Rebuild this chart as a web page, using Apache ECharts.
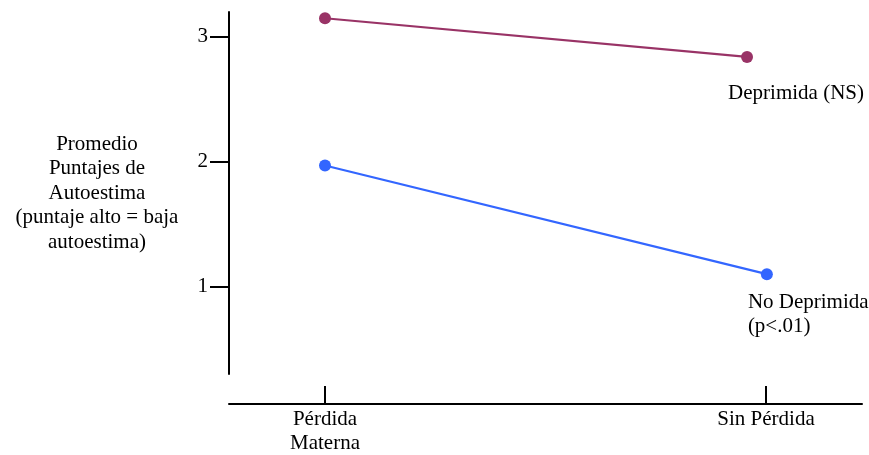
<!DOCTYPE html>
<html>
<head>
<meta charset="utf-8">
<script src="https://cdn.jsdelivr.net/npm/echarts@6/dist/echarts.min.js"></script>
<style>html,body{margin:0;padding:0;background:#fff}#c{width:869px;height:455px}</style>
</head>
<body>
<div id="c"></div>
<script>
// Data
const categories = ['Pérdida\nMaterna', 'Sin Pérdida'];
const categoryPos = [0, 1];
const deprimidaX = [0, 0.957];
const deprimida = [3.15, 2.84];
const noDeprimidaX = [0, 1.002];
const noDeprimida = [1.97, 1.10];
const yTicks = [1, 2, 3];
const seriesNames = ['Deprimida (NS)', 'No Deprimida\n(p<.01)'];
const yTitle = 'Promedio\nPuntajes de\nAutoestima\n(puntaje alto = baja\nautoestima)';

const FONT = 'Liberation Serif';
const chart = echarts.init(document.getElementById('c'), null, {renderer: 'canvas'});

function pairs(xs, ys) { return xs.map((x, i) => [x, ys[i]]); }

chart.setOption({
  animation: false,
  backgroundColor: '#fff',
  textStyle: {fontFamily: FONT, color: '#000'},
  grid: {left: 229, top: 12, width: 633, height: 366},
  xAxis: {
    type: 'value', min: -0.2177, max: 1.2177, offset: 30,
    splitLine: {show: false},
    axisLine: {show: true, onZero: false, lineStyle: {color: '#000', width: 2}},
    axisTick: {show: true, inside: true, length: 18, lineStyle: {color: '#000', width: 2}, customValues: categoryPos},
    axisLabel: {
      show: true, margin: 3, customValues: categoryPos,
      fontFamily: FONT, fontSize: 21, color: '#000', lineHeight: 24,
      formatter: v => { const i = categoryPos.indexOf(Math.round(v)); return i >= 0 ? categories[i] : ''; }
    }
  },
  yAxis: {
    type: 'value', min: 0.3, max: 3.2,
    splitLine: {show: false},
    axisLine: {show: true, onZero: false, lineStyle: {color: '#000', width: 2}},
    axisTick: {show: true, length: 19, lineStyle: {color: '#000', width: 2}, customValues: yTicks},
    axisLabel: {show: true, margin: 21, customValues: yTicks, fontFamily: FONT, fontSize: 21, color: '#000', verticalAlign: 'middle', padding: [0, 0, 20, 0]},
    name: yTitle, nameLocation: 'middle', nameRotate: 0, nameGap: 132,
    nameTextStyle: {fontFamily: FONT, fontSize: 21, color: '#000', lineHeight: 24.5, align: 'center', verticalAlign: 'middle', padding: [0, 0, 30, 0]}
  },
  series: [
    {
      name: seriesNames[0], type: 'line',
      data: pairs(deprimidaX, deprimida).map((p, i) => i === 1 ? {value: p, label: {show: true}} : {value: p}),
      symbol: 'circle', symbolSize: 12,
      lineStyle: {color: '#993366', width: 2.2},
      itemStyle: {color: '#993366'},
      label: {show: false, formatter: seriesNames[0], position: [55, 43], align: 'center', verticalAlign: 'middle', fontFamily: FONT, fontSize: 21, color: '#000'}
    },
    {
      name: seriesNames[1], type: 'line',
      data: pairs(noDeprimidaX, noDeprimida).map((p, i) => i === 1 ? {value: p, label: {show: true}} : {value: p}),
      symbol: 'circle', symbolSize: 12,
      lineStyle: {color: '#3366ff', width: 2.2},
      itemStyle: {color: '#3366ff'},
      label: {show: false, formatter: seriesNames[1], position: [-13, 22], align: 'left', verticalAlign: 'top', lineHeight: 24, fontFamily: FONT, fontSize: 21, color: '#000'}
    }
  ]
});
</script>
</body>
</html>
